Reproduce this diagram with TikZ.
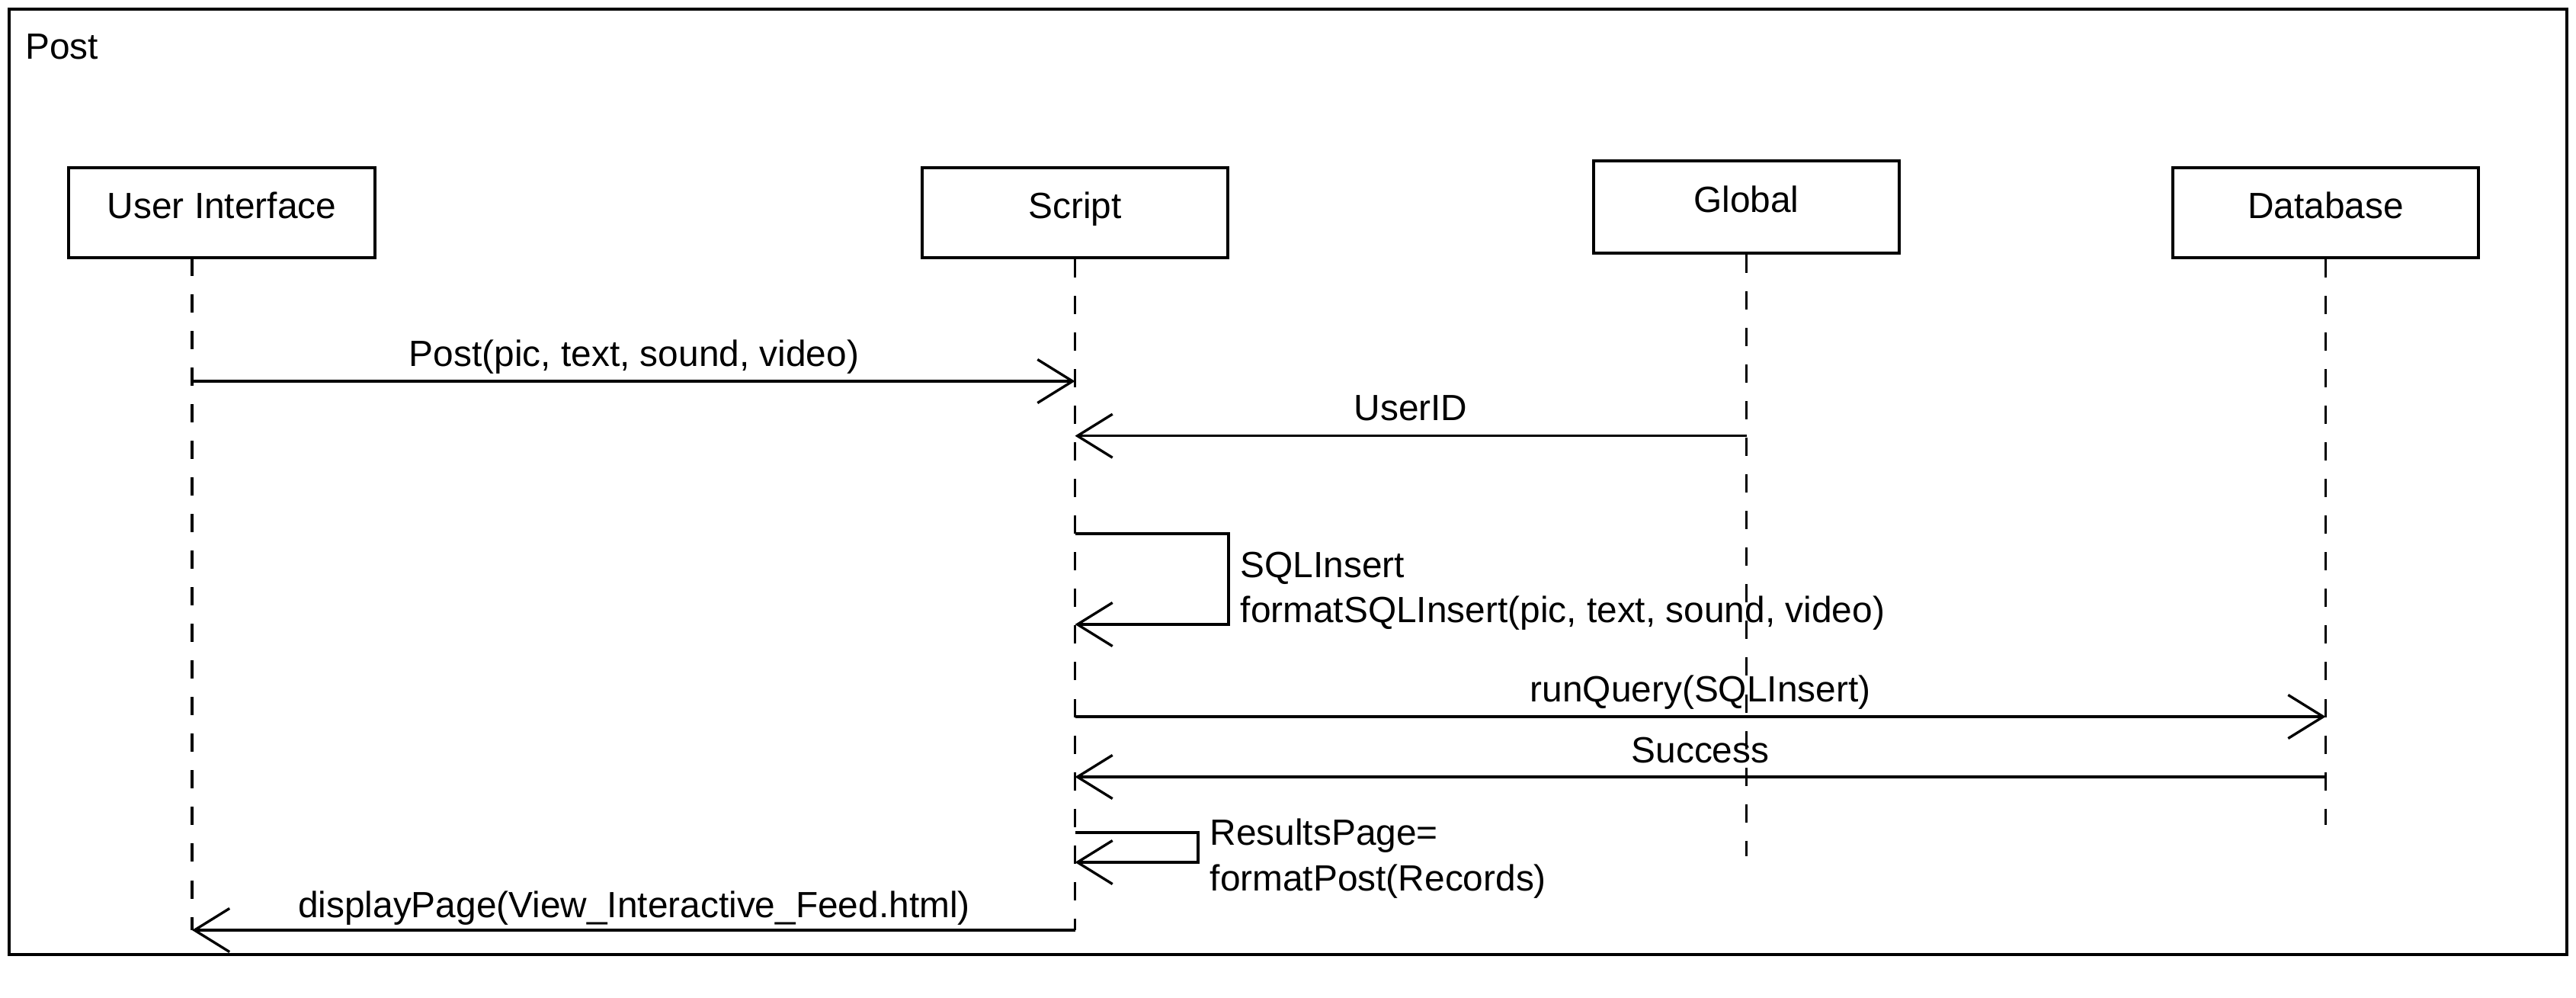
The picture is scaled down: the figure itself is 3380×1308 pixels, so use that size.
\documentclass[tikz,border=0pt]{standalone}
\usepackage{fontspec}
\setmainfont{Liberation Sans}
\usetikzlibrary{arrows.meta}
\begin{document}
\begin{tikzpicture}[x=0.01cm,y=-0.01cm,
  every node/.append style={font=\fontsize{13.6pt}{16.9pt}\selectfont},
  actor/.style={draw, line width=1.2pt, minimum width=4.01cm, minimum height=1.18cm,
    inner sep=0pt, text height=0.34cm, text depth=0.20cm},
  lifeline/.style={line width=1pt, dash pattern=on 0.24cm off 0.24cm},
  msg/.style={line width=0.95pt, -{Straight Barb[length=0.46cm,width=0.57cm]}},
  lbl/.style={anchor=base, inner sep=0pt},
  lblw/.style={anchor=base west, inner sep=0pt}]
\useasboundingbox (0,0) rectangle (3380,1308);
% frame
\draw[line width=1.2pt] (12,12) rectangle (3368,1252);
\node[lblw] (title) at (32.6,77) {Post};
% actors
\node[actor] (ui) at (291,279) {User Interface};
\node[actor] (sc) at (1410.5,279) {Script};
\node[actor, minimum height=1.21cm] (gl) at (2291.5,271.5) {Global};
\node[actor] (db) at (3051.5,279) {Database};
% lifeline ends
\coordinate (uitop) at (252,338);
\coordinate (uibot) at (252,1220);
\coordinate (scbot) at (1410.5,1220);
\coordinate (glbot) at (2291.5,1123);
\coordinate (dbbot) at (3051.5,1082);
\draw[lifeline] (uitop) -- (uibot);
\draw[lifeline] (sc.south) -- (scbot);
\draw[lifeline] (gl.south) -- (glbot);
\draw[lifeline] (db.south) -- (dbbot);
% message points
\coordinate (m1a) at (252,500);    \coordinate (m1b) at (1410.5,500);
\coordinate (m2a) at (2291.5,571.7); \coordinate (m2b) at (1410.5,571.7);
\coordinate (s1a) at (1410.5,700); \coordinate (s1b) at (1612,700);
\coordinate (s1c) at (1612,819);   \coordinate (s1d) at (1410.5,819);
\coordinate (m3a) at (1410.5,940); \coordinate (m3b) at (3051.5,940);
\coordinate (m4a) at (3051.5,1019); \coordinate (m4b) at (1410.5,1019);
\coordinate (s2a) at (1410.5,1092); \coordinate (s2b) at (1572,1092);
\coordinate (s2c) at (1572,1131);   \coordinate (s2d) at (1410.5,1131);
\coordinate (m5a) at (1410.5,1220); \coordinate (m5b) at (252,1220);
% messages
\draw[msg] (m1a) -- (m1b);
\node[lbl] (l1) at (832,480) {Post(pic, text, sound, video)};
\draw[msg] (m2a) -- (m2b);
\node[lbl] (l2) at (1851,551.7) {UserID};
\draw[msg] (s1a) -- (s1b) -- (s1c) -- (s1d);
\node[lblw] (l3a) at (1627,757) {SQLInsert};
\node[lblw] (l3b) at (1627,816) {formatSQLInsert(pic, text, sound, video)};
\draw[msg] (m3a) -- (m3b);
\node[lbl] (l4) at (2231,920) {runQuery(SQLInsert)};
\draw[msg] (m4a) -- (m4b);
\node[lbl] (l5) at (2231,1000.6) {Success};
\draw[msg] (s2a) -- (s2b) -- (s2c) -- (s2d);
\node[lblw] (l6a) at (1587,1108.5) {ResultsPage=};
\node[lblw] (l6b) at (1587,1168.7) {formatPost(Records)};
\draw[msg] (m5a) -- (m5b);
\node[lbl] (l7) at (832,1203) {displayPage(View\_Interactive\_Feed.html)};
\end{tikzpicture}
\end{document}
